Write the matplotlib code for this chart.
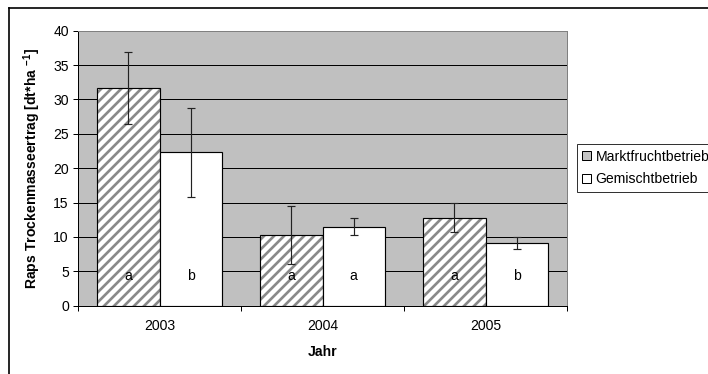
import matplotlib
matplotlib.use("Agg")
import matplotlib.pyplot as plt
from matplotlib.lines import Line2D
import numpy as np

plt.rcParams['font.family'] = ['Liberation Sans', 'DejaVu Sans']
plt.rcParams['mathtext.fontset'] = 'custom'
plt.rcParams['mathtext.rm'] = 'Liberation Sans:bold'
plt.rcParams['mathtext.default'] = 'rm'
plt.rcParams['hatch.linewidth'] = 1.6
plt.rcParams['hatch.color'] = '#8a8a8a'

# Data
years = ['2003', '2004', '2005']
series_names = ['Marktfruchtbetrieb', 'Gemischtbetrieb']
markt_mean = [31.7, 10.3, 12.8]
markt_err = [5.2, 4.2, 2.1]
gem_mean = [22.3, 11.5, 9.1]
gem_err = [6.5, 1.25, 0.85]
markt_letters = ['a', 'a', 'a']
gem_letters = ['b', 'a', 'b']
yticks = [0, 5, 10, 15, 20, 25, 30, 35, 40]

FS = 8.4
W, H, DPI = 708, 374, 120
fig = plt.figure(figsize=(W / DPI, H / DPI), dpi=DPI)

# plot area in pixel coordinates
left, right, top, bottom = 78, 567, 30.7, 305.7
ax = fig.add_axes([left / W, 1 - bottom / H, (right - left) / W, (bottom - top) / H])
ax.set_facecolor('#c0c0c0')

x = np.arange(len(years))
bw = 0.383
xm = x - bw / 2
xg = x + bw / 2

# hatched fill of the first series, then outlines on top
ax.bar(xm, markt_mean, bw, color='white', hatch='////', edgecolor='#8a8a8a',
       linewidth=0, zorder=2)
ax.bar(xm, markt_mean, bw, fill=False, edgecolor='black', linewidth=0.7, zorder=3)
ax.bar(xg, gem_mean, bw, color='white', edgecolor='black', linewidth=0.7, zorder=3)

ax.errorbar(xm, markt_mean, yerr=markt_err, fmt='none', ecolor='#222222',
            elinewidth=0.7, capsize=2.5, capthick=0.7, zorder=4)
ax.errorbar(xg, gem_mean, yerr=gem_err, fmt='none', ecolor='#222222',
            elinewidth=0.7, capsize=2.5, capthick=0.7, zorder=4)

for xi, t in zip(xm, markt_letters):
    ax.text(xi, 4.3, t, ha='center', va='center', fontsize=FS, zorder=5)
for xi, t in zip(xg, gem_letters):
    ax.text(xi, 4.3, t, ha='center', va='center', fontsize=FS, zorder=5)

ax.set_xlim(-0.5, 2.5)
ax.set_ylim(0, 40)
ax.set_yticks(yticks)
ax.set_yticklabels([str(v) for v in yticks], fontsize=FS)
for v in yticks[1:-1]:
    ax.axhline(v, color='black', linewidth=0.6, zorder=1)

ax.set_xticks([-0.5, 0.5, 1.5, 2.5])
ax.set_xticklabels([])
ax.set_xticks(x, minor=True)
ax.set_xticklabels(years, minor=True, fontsize=FS)
ax.tick_params(axis='x', which='major', direction='out', length=3, width=0.6)
ax.tick_params(axis='x', which='minor', length=0, pad=8)
ax.tick_params(axis='y', direction='out', length=3, width=0.6, pad=2.5)

for s in ['left', 'bottom']:
    ax.spines[s].set_color('black')
    ax.spines[s].set_linewidth(0.6)
for s in ['top', 'right']:
    ax.spines[s].set_color('#808080')
    ax.spines[s].set_linewidth(0.6)

ax.set_xlabel('Jahr', fontsize=FS, fontweight='bold', labelpad=7)
ax.set_ylabel(r'Raps Trockenmasseertrag [dt*ha $^{-1}$]', fontsize=FS,
              fontweight='bold', labelpad=6)

# legend with small square keys
handles = [
    plt.Rectangle((0, 0), 1, 1, facecolor='#c4c4c4', edgecolor='black',
                  linewidth=0.6),
    plt.Rectangle((0, 0), 1, 1, facecolor='white', edgecolor='black', linewidth=0.6),
]
leg = fig.legend(handles, series_names, loc='upper left',
                 bbox_to_anchor=(576.7 / W, 1 - 144 / H), fontsize=FS,
                 handlelength=0.6, handleheight=0.6, handletextpad=0.35,
                 borderpad=0.4, labelspacing=0.6, borderaxespad=0,
                 fancybox=False, shadow=False, frameon=True)
leg.get_frame().set_edgecolor('black')
leg.get_frame().set_linewidth(0.6)

# chart area frame (extends past the right and bottom edges)
fx, fy = 9 / W, 1 - 7.5 / H
fig.add_artist(Line2D([fx, fx], [-0.1, fy], color='black', linewidth=1.0,
                      transform=fig.transFigure))
fig.add_artist(Line2D([fx, 1.1], [fy, fy], color='black', linewidth=1.0,
                      transform=fig.transFigure))

fig.savefig('out.png', dpi=DPI)
